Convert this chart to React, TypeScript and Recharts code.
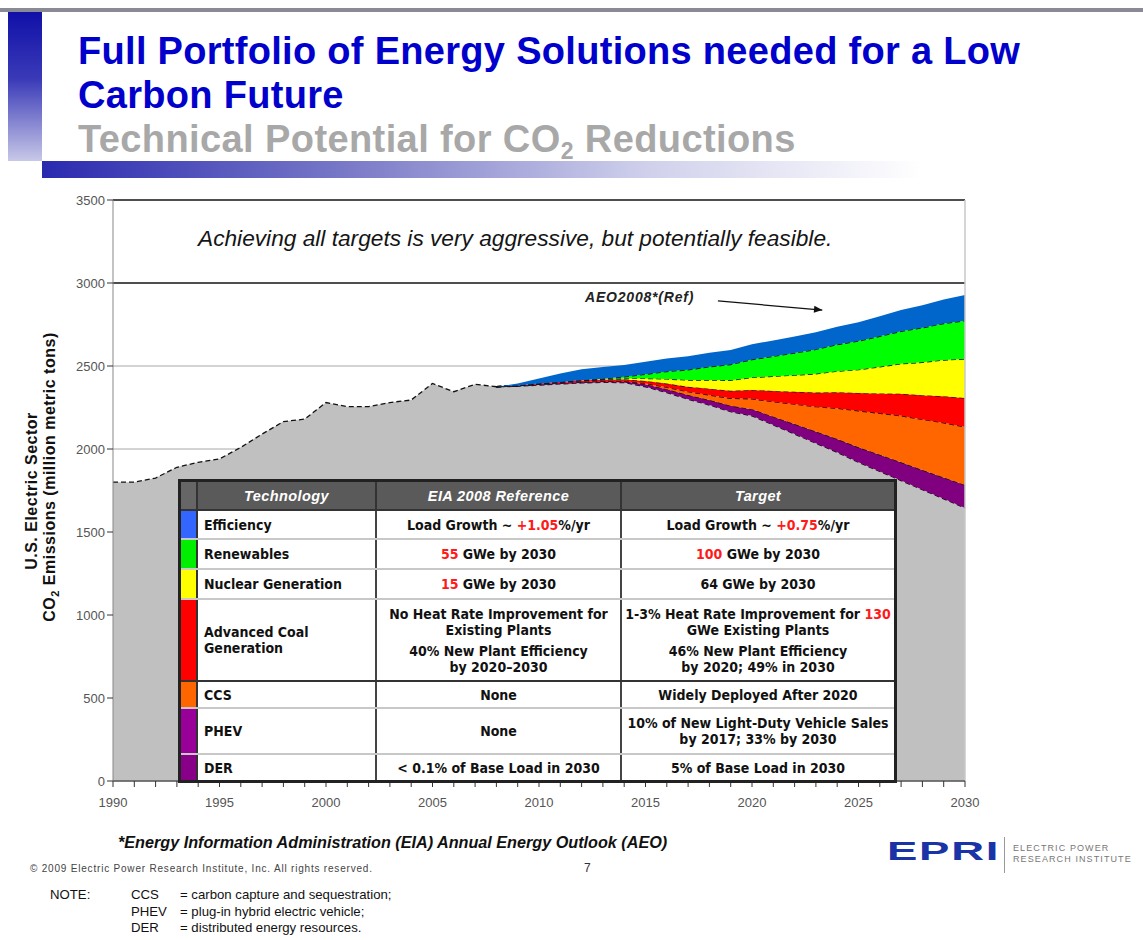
import React from 'react'
import {
  AreaChart,
  Area,
  XAxis,
  YAxis,
  CartesianGrid,
  ReferenceLine,
} from 'recharts'

// x axis: actual emissions 1990-2007, AEO2008 projection 2008-2030
const years = [
  1990, 1991, 1992, 1993, 1994, 1995, 1996, 1997, 1998, 1999,
  2000, 2001, 2002, 2003, 2004, 2005, 2006, 2007, 2008, 2009,
  2010, 2011, 2012, 2013, 2014, 2015, 2016, 2017, 2018, 2019,
  2020, 2021, 2022, 2023, 2024, 2025, 2026, 2027, 2028, 2029, 2030,
]

// gray area: history, then the emissions path with all targets met
const baseEmissions = [
  1800, 1800, 1825, 1890, 1920, 1940, 2010, 2090, 2165, 2180,
  2280, 2255, 2255, 2280, 2295, 2395, 2345, 2390, 2375, 2378,
  2385, 2392, 2398, 2402, 2400, 2375, 2340, 2300, 2265, 2225,
  2200, 2145, 2090, 2035, 1980, 1920, 1865, 1810, 1755, 1700, 1645,
]

// reduction wedges (million metric tons), 2008-2030
const futureYears = [
  2008, 2009, 2010, 2011, 2012, 2013, 2014, 2015, 2016, 2017, 2018, 2019,
  2020, 2021, 2022, 2023, 2024, 2025, 2026, 2027, 2028, 2029, 2030,
]
const phevDer = [0, 3, 5, 6, 6, 6, 8, 15, 20, 25, 30, 35, 40, 50, 60, 70, 80, 90, 100, 110, 118, 128, 138]
const ccs = [0, 0, 0, 0, 0, 0, 0, 5, 12, 20, 30, 45, 62, 90, 120, 150, 185, 220, 250, 280, 305, 330, 350]
const advCoal = [0, 2, 4, 6, 8, 10, 12, 15, 22, 30, 38, 46, 54, 65, 75, 85, 97, 108, 120, 133, 146, 160, 174]
const nuclear = [0, 0, 0, 0, 2, 3, 5, 15, 28, 40, 52, 63, 75, 88, 100, 113, 127, 140, 160, 180, 198, 218, 235]
const renewables = [0, 0, 0, 0, 0, 2, 10, 25, 45, 62, 80, 95, 108, 120, 133, 147, 160, 172, 184, 196, 208, 220, 231]
const efficiency = [0, 12, 31, 51, 66, 71, 71, 75, 78, 82, 85, 88, 92, 96, 100, 104, 108, 113, 120, 128, 136, 145, 155]

const yTicks = [0, 500, 1000, 1500, 2000, 2500, 3000, 3500]

// table text, [..] marks the red numbers
const techNames = ['Efficiency', 'Renewables', 'Nuclear Generation', 'Advanced Coal\nGeneration', 'CCS', 'PHEV', 'DER']
const eiaReference = [
  ['Load Growth ~ [+1.05]%/yr'],
  ['[55] GWe by 2030'],
  ['[15] GWe by 2030'],
  ['No Heat Rate Improvement for\nExisting Plants', '40% New Plant Efficiency\nby 2020\u20132030'],
  ['None'],
  ['None'],
  ['< 0.1% of Base Load in 2030'],
]
const targets = [
  ['Load Growth ~ [+0.75]%/yr'],
  ['[100] GWe by 2030'],
  ['64 GWe by 2030'],
  ['1-3% Heat Rate Improvement for [130]\nGWe Existing Plants', '46% New Plant Efficiency\nby 2020; 49% in 2030'],
  ['Widely Deployed After 2020'],
  ['10% of New Light-Duty Vehicle Sales\nby 2017; 33% by 2030'],
  ['5% of Base Load in 2030'],
]
const stripColors = ['#3366ff', '#00ee00', '#ffff00', '#ff0000', '#ff6600', '#990099', '#880088']

const noteTerms = ['CCS', 'PHEV', 'DER']
const noteDefs = ['= carbon capture and sequestration;', '= plug-in hybrid electric vehicle;', '= distributed energy resources.']

const series = [
  { key: 'base', color: '#c0c0c0' },
  { key: 'phev', color: '#800080' },
  { key: 'ccs', color: '#ff6600' },
  { key: 'coal', color: '#ff0000' },
  { key: 'nuclear', color: '#ffff00' },
  { key: 'renew', color: '#00ff00' },
  { key: 'eff', color: '#0066cc' },
]

const chartData = years.map((year, i) => {
  const j = futureYears.indexOf(year)
  const fut = (arr: number[]) => (j < 0 ? null : arr[j])
  return {
    year,
    base: baseEmissions[i],
    phev: fut(phevDer),
    ccs: fut(ccs),
    coal: fut(advCoal),
    nuclear: fut(nuclear),
    renew: fut(renewables),
    eff: fut(efficiency),
  }
})

const sans = "'Liberation Sans', Arial, sans-serif"
const cond = "'DejaVu Sans Condensed', 'Liberation Sans Narrow', sans-serif"

function Rich({ text }: { text: string }) {
  return (
    <>
      {text.split('\n').map((line, li) => (
        <div key={li}>
          {line.split(/(\[[^\]]+\])/).map((part, k) =>
            part.startsWith('[') ? (
              <span key={k} style={{ color: '#ff1a1a' }}>{part.slice(1, -1)}</span>
            ) : (
              <span key={k}>{part}</span>
            )
          )}
        </div>
      ))}
    </>
  )
}

function Arrow(props: any) {
  const { x1, y1, x2, y2 } = props
  const a = Math.atan2(y2 - y1, x2 - x1)
  const L = 9
  const p1 = [x2 - L * Math.cos(a - 0.4), y2 - L * Math.sin(a - 0.4)]
  const p2 = [x2 - L * Math.cos(a + 0.4), y2 - L * Math.sin(a + 0.4)]
  return (
    <g>
      <line x1={x1} y1={y1} x2={x2} y2={y2} stroke="#111" strokeWidth={1.3} />
      <polygon points={`${x2},${y2} ${p1[0]},${p1[1]} ${p2[0]},${p2[1]}`} fill="#111" />
    </g>
  )
}

function TechTable() {
  const rowHeights = [29, 30, 30, 82, 27, 46, 25]
  const cols = [17, 179, 245, 272]
  const cell: React.CSSProperties = {
    fontFamily: cond,
    fontWeight: 700,
    fontSize: 14,
    color: '#111',
    lineHeight: '16px',
    boxSizing: 'border-box',
  }
  return (
    <div
      style={{
        position: 'absolute',
        left: 178,
        top: 479,
        width: 719,
        border: '3px solid #222',
        boxSizing: 'border-box',
        background: '#fff',
      }}
    >
      <div style={{ display: 'flex', height: 29, boxSizing: 'border-box', background: '#5a5a5a', borderBottom: '2px solid #333' }}>
        <div style={{ width: cols[0], boxSizing: 'border-box', background: '#666', borderRight: '2px solid #333' }} />
        {['Technology', 'EIA 2008 Reference', 'Target'].map((h, i) => (
          <div
            key={h}
            style={{
              width: cols[i + 1],
              boxSizing: 'border-box',
              borderRight: i < 2 ? '2px solid #333' : 'none',
              color: '#fff',
              fontFamily: sans,
              fontStyle: 'italic',
              fontWeight: 700,
              fontSize: 14.5,
              letterSpacing: 0.4,
              display: 'flex',
              alignItems: 'center',
              justifyContent: 'center',
            }}
          >
            {h}
          </div>
        ))}
      </div>
      {techNames.map((name, r) => (
        <div
          key={name}
          style={{
            display: 'flex',
            height: rowHeights[r],
            boxSizing: 'border-box',
            borderBottom:
              r === techNames.length - 1 ? 'none' : r === 3 ? '2px solid #333' : '2px solid #c8c8c8',
          }}
        >
          <div style={{ width: cols[0], boxSizing: 'border-box', background: stripColors[r], borderRight: '2px solid #333' }} />
          <div
            style={{
              ...cell,
              width: cols[1],
              borderRight: '2px solid #444',
              paddingLeft: 6,
              display: 'flex',
              flexDirection: 'column',
              justifyContent: 'center',
            }}
          >
            <Rich text={name} />
          </div>
          {[eiaReference[r], targets[r]].map((blocks, c) => (
            <div
              key={c}
              style={{
                ...cell,
                width: cols[c + 2],
                borderRight: c === 0 ? '2px solid #444' : 'none',
                textAlign: 'center',
                whiteSpace: 'nowrap',
                display: 'flex',
                flexDirection: 'column',
                justifyContent: 'center',
                gap: 5,
              }}
            >
              {blocks.map((b, k) => (
                <div key={k}>
                  <Rich text={b} />
                </div>
              ))}
            </div>
          ))}
        </div>
      ))}
    </div>
  )
}

export default function App() {
  return (
    <div style={{ position: 'relative', width: 1143, height: 940, background: '#fff', overflow: 'hidden' }}>
      <style>{'body{margin:0}'}</style>

      {/* slide decoration */}
      <div style={{ position: 'absolute', left: 0, top: 8, width: 1143, height: 4, background: '#8a8a96' }} />
      <div
        style={{
          position: 'absolute',
          left: 8,
          top: 12,
          width: 34,
          height: 149,
          background: 'linear-gradient(to bottom, #1010a8 0%, #3a3ab8 45%, #c8c8e8 100%)',
        }}
      />
      <div
        style={{
          position: 'absolute',
          left: 42,
          top: 161,
          width: 1101,
          height: 17,
          background: 'linear-gradient(to right, #2a2ab0 0%, #7a7ac8 28%, #d0d0ec 55%, #ffffff 80%)',
        }}
      />
      <div
        style={{
          position: 'absolute',
          left: 78,
          top: 29,
          fontFamily: sans,
          fontWeight: 700,
          fontSize: 38,
          letterSpacing: 0.3,
          lineHeight: '44px',
          color: '#0000cc',
          whiteSpace: 'nowrap',
        }}
      >
        <div>Full Portfolio of Energy Solutions needed for a Low</div>
        <div>Carbon Future</div>
      </div>
      <div
        style={{
          position: 'absolute',
          left: 78,
          top: 117,
          fontFamily: sans,
          fontWeight: 700,
          fontSize: 38,
          letterSpacing: 0.4,
          lineHeight: '44px',
          color: '#a8a8a8',
          whiteSpace: 'nowrap',
        }}
      >
        Technical Potential for CO<sub style={{ fontSize: 23, verticalAlign: -7, lineHeight: 0 }}>2</sub> Reductions
      </div>

      <div style={{ position: 'absolute', left: 0, top: 0 }}>
        <AreaChart
          width={1143}
          height={940}
          data={chartData}
          margin={{ top: 200, right: 178, bottom: 129, left: 63 }}
        >
          <CartesianGrid vertical={false} stroke="#a8a8a8" />
          <XAxis
            dataKey="year"
            type="number"
            domain={[1990, 2030]}
            ticks={years}
            interval={0}
            tickFormatter={(v: number) => (v % 5 === 0 ? String(v) : '')}
            tick={{ fill: '#555', fontSize: 13, fontFamily: sans }}
            tickLine={{ stroke: '#333' }}
            tickSize={6}
            tickMargin={11}
            axisLine={{ stroke: '#222' }}
            height={30}
          />
          <YAxis
            type="number"
            domain={[0, 3500]}
            ticks={yTicks}
            interval={0}
            tick={{ fill: '#555', fontSize: 13, fontFamily: sans }}
            tickLine={{ stroke: '#333' }}
            tickSize={6}
            axisLine={{ stroke: '#888' }}
            width={50}
          />
          {series.map((s) => (
            <Area
              key={s.key}
              type="linear"
              dataKey={s.key}
              stackId="co2"
              fill={s.color}
              fillOpacity={1}
              stroke={s.key === 'eff' ? s.color : '#111'}
              strokeWidth={s.key === 'eff' ? 0 : 1.3}
              strokeDasharray={s.key === 'eff' ? undefined : '5 3'}
              isAnimationActive={false}
              dot={false}
              activeDot={false}
            />
          ))}
          <ReferenceLine y={3500} stroke="#222" strokeWidth={1.3} />
          <ReferenceLine y={3000} stroke="#222" strokeWidth={1.3} />
          <ReferenceLine x={2030} stroke="#c8c8c8" strokeWidth={1.5} />
          <ReferenceLine
            segment={[
              { x: 2018.4, y: 2892 },
              { x: 2023.3, y: 2837 },
            ]}
            shape={Arrow}
          />
        </AreaChart>
      </div>

      {/* axis title */}
      <svg style={{ position: 'absolute', left: 0, top: 0 }} width={80} height={940}>
        <g fontFamily={sans} fontWeight={700} fontSize={16} fill="#111" textAnchor="middle" letterSpacing={0.5}>
          <text transform="translate(37,491) rotate(-90)">U.S. Electric Sector</text>
          <text transform="translate(55,477) rotate(-90)">
            CO<tspan fontSize={11} dy={4}>2</tspan>
            <tspan dy={-4}> Emissions (million metric tons)</tspan>
          </text>
        </g>
      </svg>

      <div
        style={{
          position: 'absolute',
          left: 198,
          top: 225,
          fontFamily: sans,
          fontStyle: 'italic',
          fontSize: 22.7,
          color: '#151515',
          whiteSpace: 'nowrap',
        }}
      >
        Achieving all targets is very aggressive, but potentially feasible.
      </div>
      <div
        style={{
          position: 'absolute',
          left: 585,
          top: 289,
          fontFamily: sans,
          fontStyle: 'italic',
          fontWeight: 700,
          fontSize: 14,
          letterSpacing: 0.8,
          color: '#222',
          whiteSpace: 'nowrap',
        }}
      >
        AEO2008*(Ref)
      </div>

      <TechTable />

      {/* footer */}
      <div
        style={{
          position: 'absolute',
          left: 118,
          top: 833,
          fontFamily: sans,
          fontStyle: 'italic',
          fontWeight: 700,
          fontSize: 16.2,
          color: '#111',
          whiteSpace: 'nowrap',
        }}
      >
        *Energy Information Administration (EIA) Annual Energy Outlook (AEO)
      </div>
      <div
        style={{
          position: 'absolute',
          left: 30,
          top: 863,
          fontFamily: sans,
          fontSize: 10,
          letterSpacing: 0.8,
          color: '#444',
          whiteSpace: 'nowrap',
        }}
      >
        © 2009 Electric Power Research Institute, Inc. All rights reserved.
      </div>
      <div style={{ position: 'absolute', left: 584, top: 861, fontFamily: sans, fontSize: 12, color: '#333' }}>7</div>

      <div
        style={{
          position: 'absolute',
          left: 887,
          top: 836,
          fontFamily: sans,
          fontWeight: 700,
          fontSize: 26,
          color: '#1a33a6',
          transform: 'scaleX(1.75)',
          transformOrigin: 'left top',
          letterSpacing: 1,
          lineHeight: '30px',
        }}
      >
        EPRI
      </div>
      <div style={{ position: 'absolute', left: 1004, top: 837, width: 1, height: 36, background: '#999' }} />
      <div
        style={{
          position: 'absolute',
          left: 1013,
          top: 843,
          fontFamily: sans,
          fontSize: 9,
          lineHeight: '11px',
          color: '#777',
          letterSpacing: 1.1,
          whiteSpace: 'nowrap',
        }}
      >
        <div>ELECTRIC POWER</div>
        <div>RESEARCH INSTITUTE</div>
      </div>

      <div
        style={{
          position: 'absolute',
          left: 50,
          top: 887,
          fontFamily: "'Liberation Sans Narrow', 'Liberation Sans', sans-serif",
          fontSize: 13.2,
          lineHeight: '16.5px',
          color: '#111',
        }}
      >
        {noteTerms.map((t, i) => (
          <div key={t} style={{ position: 'relative', height: 16.5, whiteSpace: 'nowrap' }}>
            {i === 0 && <span style={{ position: 'absolute', left: 0 }}>NOTE:</span>}
            <span style={{ position: 'absolute', left: 81 }}>{t}</span>
            <span style={{ position: 'absolute', left: 130 }}>{noteDefs[i]}</span>
          </div>
        ))}
      </div>
    </div>
  )
}
